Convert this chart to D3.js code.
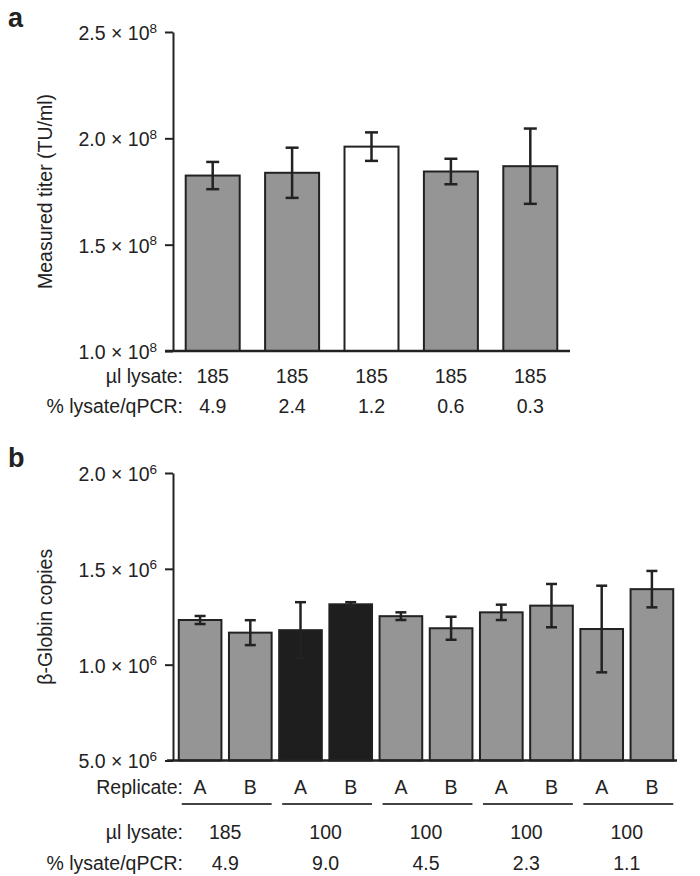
<!DOCTYPE html>
<html>
<head>
<meta charset="utf-8">
<script src="https://cdn.jsdelivr.net/npm/d3@7"></script>
<style>
  body { margin: 0; background: #fff; }
  svg text { font-family: "Liberation Sans", Arial, Helvetica, sans-serif; fill: #222; }
</style>
</head>
<body>
<svg class="chart" width="700" height="876"></svg>
<script>
/* panel a - measured titer */
const titerLysate = ["185", "185", "185", "185", "185"]
const titerPct = ["4.9", "2.4", "1.2", "0.6", "0.3"]
const titerMean = [1.825e8, 1.838e8, 1.961e8, 1.844e8, 1.869e8]
const titerErr = [0.064e8, 0.118e8, 0.067e8, 0.060e8, 0.177e8]
const titerKind = ["test", "test", "ref", "test", "test"]
const titerTicks = [1.0e8, 1.5e8, 2.0e8, 2.5e8]
const titerTickLabels = ["1.0", "1.5", "2.0", "2.5"]

/* panel b - beta-globin copies */
const replicate = ["A", "B", "A", "B", "A", "B", "A", "B", "A", "B"]
const globinMean = [1.233e6, 1.167e6, 1.180e6, 1.315e6, 1.253e6, 1.190e6, 1.273e6, 1.308e6, 1.186e6, 1.394e6]
const globinErr = [0.021e6, 0.065e6, 0.146e6, 0.011e6, 0.020e6, 0.060e6, 0.040e6, 0.113e6, 0.226e6, 0.095e6]
const globinGroup = [0, 0, 1, 1, 2, 2, 3, 3, 4, 4]
const groupLysate = ["185", "100", "100", "100", "100"]
const groupPct = ["4.9", "9.0", "4.5", "2.3", "1.1"]
const groupKind = ["test", "high", "test", "test", "test"]
const globinTicks = [0.5e6, 1.0e6, 1.5e6, 2.0e6]
const globinTickLabels = ["5.0", "1.0", "1.5", "2.0"]

const ink = "#222"
const fs = 19.5
const fill = d3.scaleOrdinal().domain(["test", "ref", "high"]).range(["#959595", "#ffffff", "#1e1e1e"])

const svg = d3.select("svg.chart")

const sciAxis = (g, labels, exp) => {
  g.select(".domain").attr("stroke", ink).attr("stroke-width", 2)
  g.selectAll(".tick line").attr("stroke", ink).attr("stroke-width", 2)
  g.selectAll(".tick text").each(function (d, i) {
    const t = d3.select(this).text(null)
      .attr("x", -16).attr("dy", "0.38em")
      .attr("font-size", fs).attr("fill", ink)
    t.append("tspan").text(labels[i] + " \u00d7 10")
    t.append("tspan").attr("dy", "-0.55em").attr("font-size", 13.5).text(exp)
  })
}

const drawBars = (g, x, y, means, errs, kinds, cap) => {
  const bar = g.selectAll("g.bar")
    .data(means)
    .enter()
    .append("g")
    .attr("class", "bar")
    .attr("transform", (d, i) => "translate(" + x(i) + ",0)")

  bar.append("rect")
    .attr("y", d => y(d))
    .attr("height", d => y.range()[0] - y(d))
    .attr("width", x.bandwidth())
    .attr("fill", (d, i) => fill(kinds[i]))
    .attr("stroke", ink)
    .attr("stroke-width", 2)

  const cx = x.bandwidth() / 2
  bar.append("line")
    .attr("x1", cx).attr("x2", cx)
    .attr("y1", (d, i) => y(d + errs[i]))
    .attr("y2", (d, i) => y(d - errs[i]))
  bar.append("line")
    .attr("x1", cx - cap / 2).attr("x2", cx + cap / 2)
    .attr("y1", (d, i) => y(d + errs[i]))
    .attr("y2", (d, i) => y(d + errs[i]))
  bar.append("line")
    .attr("x1", cx - cap / 2).attr("x2", cx + cap / 2)
    .attr("y1", (d, i) => y(d - errs[i]))
    .attr("y2", (d, i) => y(d - errs[i]))
  bar.selectAll("line").attr("stroke", ink).attr("stroke-width", 2.5)
}

const rowLabel = (text, y) => svg.append("text")
  .attr("x", 183).attr("y", y)
  .attr("text-anchor", "end")
  .attr("font-size", fs)
  .text(text)

/* ---- panel a ---- */
const xa = d3.scaleBand()
  .domain(d3.range(titerMean.length))
  .range([173, 570])
  .paddingInner(0.32)
  .paddingOuter(0.16)

const ya = d3.scaleLinear().domain([1.0e8, 2.5e8]).range([351, 32])

svg.append("text").attr("x", 8).attr("y", 27)
  .attr("font-size", 27).attr("font-weight", "bold").text("a")

svg.append("g")
  .attr("transform", "translate(173,0)")
  .call(d3.axisLeft(ya).tickValues(titerTicks).tickSize(8).tickSizeOuter(0))
  .call(g => sciAxis(g, titerTickLabels, "8"))

svg.append("text")
  .attr("transform", "translate(52," + (ya(1.75e8)) + ") rotate(-90)")
  .attr("text-anchor", "middle")
  .attr("font-size", fs)
  .text("Measured titer (TU/ml)")

drawBars(svg.append("g"), xa, ya, titerMean, titerErr, titerKind, 13)

svg.append("line")
  .attr("x1", 165).attr("x2", 570)
  .attr("y1", ya(1.0e8)).attr("y2", ya(1.0e8))
  .attr("stroke", ink).attr("stroke-width", 2.5)

rowLabel("\u00b5l lysate:", 383)
rowLabel("% lysate/qPCR:", 413)

svg.append("g").selectAll("text")
  .data(titerLysate)
  .enter()
  .append("text")
  .attr("x", (d, i) => xa(i) + xa.bandwidth() / 2)
  .attr("y", 383)
  .attr("text-anchor", "middle")
  .attr("font-size", fs)
  .text(d => d)

svg.append("g").selectAll("text")
  .data(titerPct)
  .enter()
  .append("text")
  .attr("x", (d, i) => xa(i) + xa.bandwidth() / 2)
  .attr("y", 413)
  .attr("text-anchor", "middle")
  .attr("font-size", fs)
  .text(d => d)

/* ---- panel b ---- */
const xb = d3.scaleBand()
  .domain(d3.range(globinMean.length))
  .range([175, 677])
  .paddingInner(0.15)
  .paddingOuter(0.075)

const yb = d3.scaleLinear().domain([0.5e6, 2.0e6]).range([760.5, 473])

svg.append("text").attr("x", 8).attr("y", 467)
  .attr("font-size", 27).attr("font-weight", "bold").text("b")

svg.append("g")
  .attr("transform", "translate(173,0)")
  .call(d3.axisLeft(yb).tickValues(globinTicks).tickSize(8).tickSizeOuter(0))
  .call(g => sciAxis(g, globinTickLabels, "6"))

svg.append("text")
  .attr("transform", "translate(52," + (yb(1.25e6)) + ") rotate(-90)")
  .attr("text-anchor", "middle")
  .attr("font-size", fs)
  .text("\u03b2-Globin copies")

const globinKind = globinGroup.map(g => groupKind[g])
drawBars(svg.append("g"), xb, yb, globinMean, globinErr, globinKind, 11)

svg.append("line")
  .attr("x1", 167).attr("x2", 677)
  .attr("y1", yb(0.5e6)).attr("y2", yb(0.5e6))
  .attr("stroke", ink).attr("stroke-width", 2.5)

rowLabel("Replicate:", 794)
rowLabel("\u00b5l lysate:", 839)
rowLabel("% lysate/qPCR:", 870)

svg.append("g").selectAll("text")
  .data(replicate)
  .enter()
  .append("text")
  .attr("x", (d, i) => xb(i) + xb.bandwidth() / 2)
  .attr("y", 794)
  .attr("text-anchor", "middle")
  .attr("font-size", fs)
  .text(d => d)

const groupStart = groupLysate.map((d, k) => globinGroup.indexOf(k))
const groupEnd = groupLysate.map((d, k) => globinGroup.lastIndexOf(k))
const groupMid = k => (xb(groupStart[k]) + xb(groupEnd[k]) + xb.bandwidth()) / 2

svg.append("g").selectAll("line")
  .data(groupLysate)
  .enter()
  .append("line")
  .attr("x1", (d, k) => xb(groupStart[k]) + 3)
  .attr("x2", (d, k) => xb(groupEnd[k]) + xb.bandwidth())
  .attr("y1", 804).attr("y2", 804)
  .attr("stroke", "#444").attr("stroke-width", 2)

svg.append("g").selectAll("text")
  .data(groupLysate)
  .enter()
  .append("text")
  .attr("x", (d, k) => groupMid(k))
  .attr("y", 839)
  .attr("text-anchor", "middle")
  .attr("font-size", fs)
  .text(d => d)

svg.append("g").selectAll("text")
  .data(groupPct)
  .enter()
  .append("text")
  .attr("x", (d, k) => groupMid(k))
  .attr("y", 870)
  .attr("text-anchor", "middle")
  .attr("font-size", fs)
  .text(d => d)
</script>
</body>
</html>
